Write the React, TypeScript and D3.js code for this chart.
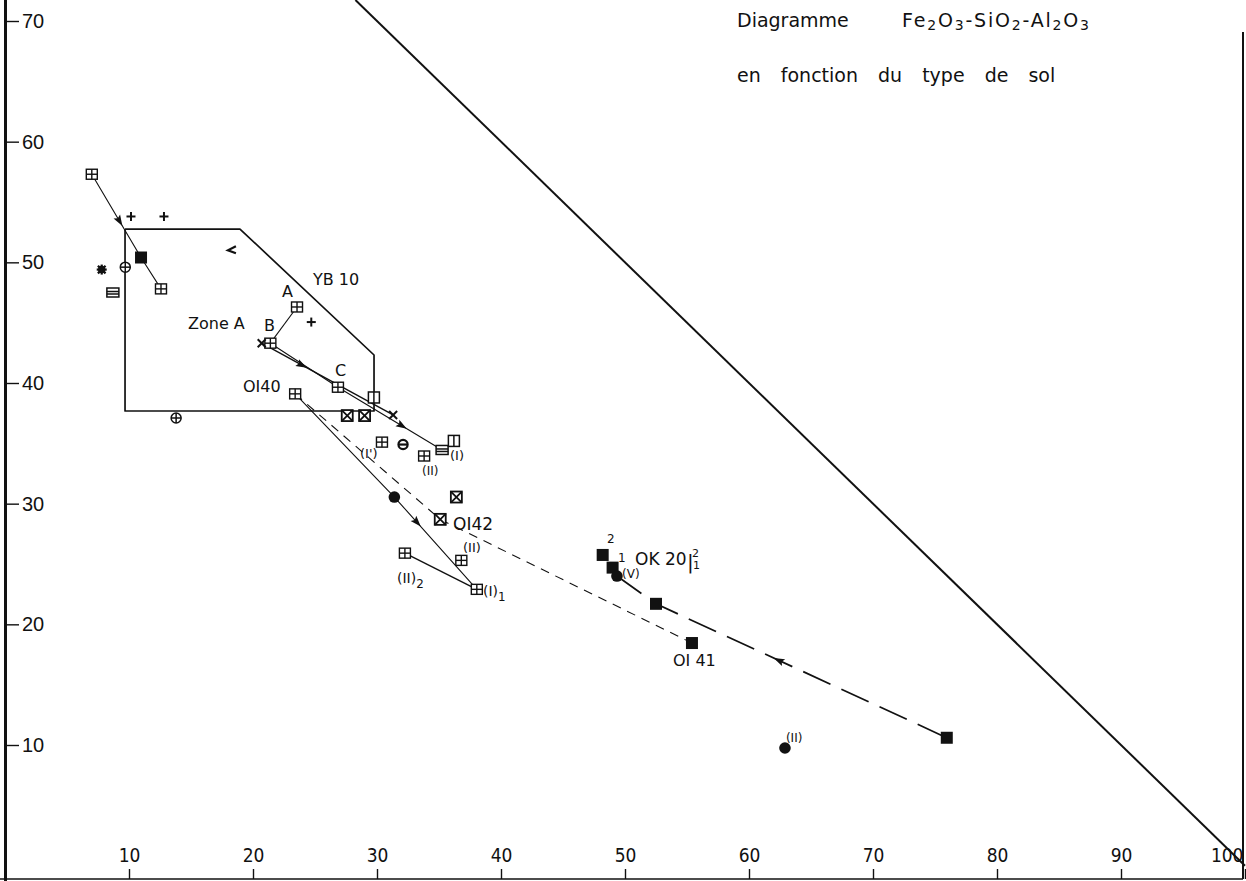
import React, { useEffect, useRef } from 'react';
import * as d3 from 'd3';

const W = 1246;
const H = 881;

// axis ticks
const xTicks = [10, 20, 30, 40, 50, 60, 70, 80, 90, 100];
const yTicks = [10, 20, 30, 40, 50, 60, 70];

// samples, by symbol  [x, y]
const gridSquares = [
  [7.0, 57.3], [12.58, 47.8], [23.55, 46.3], [21.4, 43.3], [26.85, 39.65],
  [23.4, 39.1], [30.4, 35.1], [33.8, 33.95], [36.8, 25.3], [32.25, 25.9], [38.05, 22.9],
];
const crossSquares = [[27.6, 37.3], [29.0, 37.3], [36.4, 30.55], [35.1, 28.7]];
const barSquares = [[8.7, 47.5], [35.25, 34.45]];
const splitSquares = [[29.75, 38.8], [36.2, 35.2]];
const filledSquares = [[10.97, 50.4], [48.2, 25.75], [49.0, 24.7], [52.5, 21.7], [55.4, 18.45], [75.95, 10.6]];
const filledDots = [[31.4, 30.55], [49.35, 24.0], [62.9, 9.75]];
const crossCircles = [[9.7, 49.6], [13.8, 37.1]];
const thetaCircles = [[32.1, 34.9]];
const plusMarks = [[10.16, 53.8], [12.82, 53.8], [24.7, 45.05]];
const xMarks = [[20.7, 43.3], [31.3, 37.35]];
const starMarks = [[7.8, 49.4]];
const angleMarks = [[18.3, 51.0]];

// zone A outline
const zoneA = [[9.68, 52.76], [18.95, 52.76], [29.76, 42.32], [29.76, 37.68], [9.68, 37.68], [9.68, 52.76]];

// evolution paths
const pathYB = [[7.0, 57.3], [10.97, 50.4], [12.58, 47.8]];
const pathAB = [[23.55, 46.3], [21.4, 43.3]];
const pathBX = [[20.7, 43.3], [31.3, 37.35]];
const pathBC = [[21.4, 43.3], [26.85, 39.65], [35.25, 34.45]];
const path40 = [[23.4, 39.1], [31.4, 30.55], [38.05, 22.9]];
const path21 = [[32.25, 25.9], [38.05, 22.9]];
const dash42 = [[23.4, 39.1], [35.1, 28.7], [55.4, 18.45]];
const dashOK20 = [[49.35, 24.0], [52.5, 21.7], [75.95, 10.6]];

// arrows: path, segment index, position on segment, reversed
const arrows = [
  { path: pathYB, seg: 0, t: 0.57, rev: false },
  { path: pathBX, seg: 0, t: 0.31, rev: false },
  { path: pathBC, seg: 1, t: 0.62, rev: false },
  { path: path40, seg: 1, t: 0.28, rev: false },
  { path: dashOK20, seg: 1, t: 0.42, rev: true },
];

// labels [text, sub, x, y, size]
const labels: [string, string, number, number, number][] = [
  ['YB 10', '', 24.84, 48.12, 16],
  ['A', '', 22.34, 47.13, 16],
  ['Zone A', '', 14.76, 44.47, 16],
  ['B', '', 20.89, 44.31, 16],
  ['C', '', 26.61, 40.58, 16],
  ['OI40', '', 19.19, 39.25, 16],
  ["(I')", '', 28.63, 33.78, 13],
  ['(I)', '', 35.89, 33.62, 13],
  ['(II)', '', 33.63, 32.37, 12],
  ['OI42', '', 36.13, 27.82, 17],
  ['(II)', '', 36.94, 26.0, 13],
  ['(II)', '2', 31.61, 23.42, 14],
  ['(I)', '1', 38.55, 22.35, 14],
  ['2', '', 48.55, 26.74, 12],
  ['1', '', 49.44, 25.17, 12],
  ['OK 20', '', 50.81, 24.92, 17],
  ['|', '', 55.0, 24.59, 20],
  ['2', '', 55.4, 25.58, 11],
  ['1', '', 55.48, 24.59, 11],
  ['(V)', '', 49.76, 23.84, 12],
  ['OI 41', '', 53.87, 16.55, 16],
  ['(II)', '', 62.98, 10.25, 12],
];

const x = d3.scaleLinear().domain([10, 90]).range([129, 1121]);
const y = d3.scaleLinear().domain([10, 70]).range([745, 21]);
const line = d3.line<number[]>().x(d => x(d[0])).y(d => y(d[1]));

const ink = '#111';

const Marker = ({ kind, d }: { kind: string; d: number[] }) => {
  const cx = x(d[0]);
  const cy = y(d[1]);
  const s = 5.5;
  switch (kind) {
    case 'grid':
      return (
        <g stroke={ink} strokeWidth={1.4} fill="#fff">
          <rect x={cx - s} y={cy - 5} width={2 * s} height={10} />
          <line x1={cx} x2={cx} y1={cy - 5} y2={cy + 5} />
          <line x1={cx - s} x2={cx + s} y1={cy} y2={cy} />
        </g>
      );
    case 'cross':
      return (
        <g stroke={ink} strokeWidth={1.8} fill="#fff">
          <rect x={cx - s} y={cy - s} width={2 * s} height={2 * s} />
          <line x1={cx - s} x2={cx + s} y1={cy - s} y2={cy + s} />
          <line x1={cx - s} x2={cx + s} y1={cy + s} y2={cy - s} />
        </g>
      );
    case 'bar':
      return (
        <g stroke={ink} strokeWidth={1.5} fill="#fff">
          <rect x={cx - 6} y={cy - 4.5} width={12} height={9} />
          <line x1={cx - 6} x2={cx + 6} y1={cy - 1} y2={cy - 1} />
          <line x1={cx - 6} x2={cx + 6} y1={cy + 1.5} y2={cy + 1.5} />
        </g>
      );
    case 'split':
      return (
        <g stroke={ink} strokeWidth={1.5} fill="#fff">
          <rect x={cx - s} y={cy - s} width={2 * s} height={2 * s} />
          <line x1={cx} x2={cx} y1={cy - s} y2={cy + s} />
        </g>
      );
    case 'filled':
      return <rect x={cx - 6} y={cy - 6} width={12} height={12} fill={ink} />;
    case 'dot':
      return <circle cx={cx} cy={cy} r={5.8} fill={ink} />;
    case 'ocross':
      return (
        <g stroke={ink} strokeWidth={1.5} fill="#fff">
          <circle cx={cx} cy={cy} r={5} />
          <line x1={cx - 5} x2={cx + 5} y1={cy} y2={cy} />
          <line x1={cx} x2={cx} y1={cy - 5} y2={cy + 5} />
        </g>
      );
    case 'theta':
      return (
        <g stroke={ink} strokeWidth={2.2} fill="#fff">
          <circle cx={cx} cy={cy} r={4.6} />
          <line x1={cx - 4.6} x2={cx + 4.6} y1={cy} y2={cy} />
        </g>
      );
    case 'plus':
      return (
        <g stroke={ink} strokeWidth={2}>
          <line x1={cx - 4.5} x2={cx + 4.5} y1={cy} y2={cy} />
          <line x1={cx} x2={cx} y1={cy - 4.5} y2={cy + 4.5} />
        </g>
      );
    case 'x':
      return (
        <g stroke={ink} strokeWidth={2}>
          <line x1={cx - 4} x2={cx + 4} y1={cy - 4} y2={cy + 4} />
          <line x1={cx - 4} x2={cx + 4} y1={cy + 4} y2={cy - 4} />
        </g>
      );
    case 'star':
      return (
        <g stroke={ink} strokeWidth={2.2}>
          <line x1={cx - 5} x2={cx + 5} y1={cy} y2={cy} />
          <line x1={cx} x2={cx} y1={cy - 5} y2={cy + 5} />
          <line x1={cx - 3.8} x2={cx + 3.8} y1={cy - 3.8} y2={cy + 3.8} />
          <line x1={cx - 3.8} x2={cx + 3.8} y1={cy + 3.8} y2={cy - 3.8} />
          <circle cx={cx} cy={cy} r={2.6} fill={ink} />
        </g>
      );
    case 'angle':
      return (
        <polyline
          points={`${cx + 4},${cy - 4} ${cx - 4},${cy} ${cx + 4},${cy + 3}`}
          fill="none" stroke={ink} strokeWidth={2.2}
        />
      );
    default:
      return null;
  }
};

const groups: [string, number[][]][] = [
  ['grid', gridSquares],
  ['cross', crossSquares],
  ['bar', barSquares],
  ['split', splitSquares],
  ['filled', filledSquares],
  ['dot', filledDots],
  ['ocross', crossCircles],
  ['theta', thetaCircles],
  ['plus', plusMarks],
  ['x', xMarks],
  ['star', starMarks],
  ['angle', angleMarks],
];

const Arrow = ({ path, seg, t, rev }: { path: number[][]; seg: number; t: number; rev: boolean }) => {
  const a = path[seg];
  const b = path[seg + 1];
  const x0 = x(a[0]), y0 = y(a[1]), x1 = x(b[0]), y1 = y(b[1]);
  const px = x0 + (x1 - x0) * t;
  const py = y0 + (y1 - y0) * t;
  let ang = (Math.atan2(y1 - y0, x1 - x0) * 180) / Math.PI;
  if (rev) ang += 180;
  return (
    <path
      d="M5,0 L-6,-3.8 L-4,0 L-6,3.8 Z"
      fill={ink}
      transform={`translate(${px},${py}) rotate(${ang})`}
    />
  );
};

const App = () => {
  const xRef = useRef<SVGGElement>(null);
  const yRef = useRef<SVGGElement>(null);

  useEffect(() => {
    const gx = d3.select(xRef.current);
    gx.call(d3.axisTop(x).tickValues(xTicks).tickSize(10).tickPadding(7).tickFormat(d3.format('d')) as any);
    gx.select('.domain').remove();
    gx.selectAll('.tick line').attr('stroke', ink).attr('stroke-width', 1.4);
    gx.selectAll('.tick text')
      .attr('fill', ink)
      .style('font-family', "'Liberation Sans Narrow', 'DejaVu Sans Condensed', sans-serif")
      .style('font-size', '19px');
    // last label sits against the right border
    gx.selectAll<SVGTextElement, number>('.tick text')
      .filter(d => d === 100)
      .attr('text-anchor', 'end')
      .attr('x', -2);

    const gy = d3.select(yRef.current);
    gy.call(d3.axisRight(y).tickValues(yTicks).tickSize(13).tickPadding(3).tickFormat(d3.format('d')) as any);
    gy.select('.domain').remove();
    gy.selectAll('.tick line').attr('stroke', ink).attr('stroke-width', 1.4);
    gy.selectAll('.tick text')
      .attr('fill', ink)
      .style('font-family', "'Liberation Sans', Arial, sans-serif")
      .style('font-size', '20px');
  }, []);

  const yTop = y.invert(0);
  const diag = [[100 - yTop, yTop], [100, 0]];

  return (
    <svg
      width={W}
      height={H}
      style={{ position: 'absolute', left: 0, top: 0, background: '#fff' }}
      fontFamily="'DejaVu Sans', sans-serif"
    >
      <rect width={W} height={H} fill="#fff" />

      {/* frame */}
      <line x1={5.5} x2={5.5} y1={0} y2={H} stroke={ink} strokeWidth={3} />
      <line x1={0} x2={1243} y1={879} y2={879} stroke={ink} strokeWidth={1.6} />
      <line x1={1243} x2={1243} y1={32} y2={879} stroke={ink} strokeWidth={2} />
      <g ref={xRef} transform="translate(0,879)" />
      <g ref={yRef} transform="translate(6,0)" />

      {/* x + y = 100 */}
      <path d={line(diag) || ''} fill="none" stroke={ink} strokeWidth={2} />

      {/* zone A */}
      <path d={line(zoneA) || ''} fill="none" stroke={ink} strokeWidth={1.7} strokeLinejoin="round" />

      {/* paths */}
      <g fill="none" stroke={ink} strokeWidth={1.1}>
        <path d={line(pathYB) || ''} />
        <path d={line(pathAB) || ''} />
        <path d={line(pathBX) || ''} strokeWidth={1.4} />
        <path d={line(pathBC) || ''} />
        <path d={line(path40) || ''} />
        <path d={line(path21) || ''} strokeWidth={1.4} />
        <path d={line(dash42) || ''} strokeDasharray="9 7" />
        <path d={line(dashOK20) || ''} strokeDasharray="30 12" strokeWidth={1.7} />
      </g>
      {arrows.map((a, i) => <Arrow key={i} {...a} />)}

      {/* markers */}
      {groups.map(([kind, pts]) =>
        pts.map((d, i) => <Marker key={kind + i} kind={kind} d={d} />)
      )}

      {/* labels */}
      {labels.map(([t, sub, lx, ly, size], i) => (
        <text key={i} x={x(lx)} y={y(ly)} fontSize={size} fill={ink}>
          {t}
          {sub && <tspan dy={5} fontSize={size * 0.85}>{sub}</tspan>}
        </text>
      ))}

      {/* title */}
      <text x={737} y={27} fontSize={19} fill={ink}>Diagramme</text>
      <text x={902} y={27} fontSize={19} fill={ink} letterSpacing={1.8}>
        Fe<tspan dy={3} fontSize={14}>2</tspan>
        <tspan dy={-3}>O</tspan><tspan dy={3} fontSize={14}>3</tspan>
        <tspan dy={-3}>-SiO</tspan><tspan dy={3} fontSize={14}>2</tspan>
        <tspan dy={-3}>-Al</tspan><tspan dy={3} fontSize={14}>2</tspan>
        <tspan dy={-3}>O</tspan><tspan dy={3} fontSize={14}>3</tspan>
      </text>
      <text x={737} y={82} fontSize={19} fill={ink} wordSpacing={14}>
        en fonction du type de sol
      </text>
    </svg>
  );
};

export default App;
